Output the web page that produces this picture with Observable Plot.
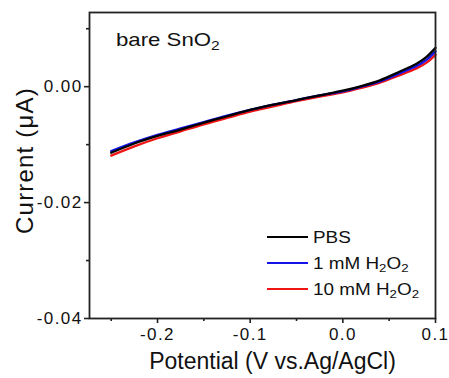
<!DOCTYPE html>
<html>
<head>
<meta charset="utf-8">
<script src="https://cdn.jsdelivr.net/npm/d3@7"></script>
<script src="https://cdn.jsdelivr.net/npm/@observablehq/plot@0.6"></script>
<style>
  html, body { margin: 0; padding: 0; background: #fff; }
  #wrap { position: relative; width: 449px; height: 378px; font-family: "Liberation Sans", Arial, sans-serif; }
  #wrap svg { position: absolute; left: 0; top: 0; }
  .txt { position: absolute; color: #111; line-height: 1; white-space: nowrap; transform-origin: 0 50%; }
  .txt sub { font-size: 70%; vertical-align: -0.3em; line-height: 0; }
  .sw { position: absolute; height: 0; border-top: 2px solid; }
</style>
</head>
<body>
<div id="wrap"></div>
<script>
// Potential (V vs. Ag/AgCl)
const potential = [-0.25, -0.225, -0.2, -0.175, -0.15, -0.125, -0.1, -0.075, -0.05, -0.025, 0, 0.02, 0.04, 0.06, 0.08, 0.09, 0.1];
// Current (µA)
const pbs  = [-0.0114, -0.0098, -0.0085, -0.0074, -0.0062, -0.0051, -0.0040, -0.0031, -0.0023, -0.0015, -0.0007, 0.0001, 0.0011, 0.0025, 0.0040, 0.0051, 0.0067];
const mM1  = [-0.0111, -0.0096, -0.0083, -0.0072, -0.0061, -0.0050, -0.0040, -0.0031, -0.0023, -0.0015, -0.0008, 0.0000, 0.0009, 0.0022, 0.0036, 0.0046, 0.0061];
const mM10 = [-0.0119, -0.0103, -0.0089, -0.0077, -0.0065, -0.0054, -0.0043, -0.0034, -0.0025, -0.0017, -0.0010, -0.0002, 0.0007, 0.0019, 0.0032, 0.0041, 0.0055];
const seriesNames = ["PBS", "1 mM H2O2", "10 mM H2O2"];
const seriesLabels = ["PBS", "1 mM H<sub>2</sub>O<sub>2</sub>", "10 mM H<sub>2</sub>O<sub>2</sub>"];
const seriesColors = ["#000000", "#1414e6", "#f01414"];
const xTicks = [-0.2, -0.1, 0.0, 0.1];
const xMinor = [-0.25, -0.15, -0.05, 0.05];
const yTicks = [-0.04, -0.02, 0.00];
const yMinor = [-0.03, -0.01, 0.01];

const allSeries = [pbs, mM1, mM10];
const rows = [];
allSeries.forEach((vals, si) => vals.forEach((v, i) => rows.push({s: seriesNames[si], x: potential[i], y: v})));
const drawOrder = [seriesNames[2], seriesNames[1], seriesNames[0]];

const font = "'Liberation Sans', Arial, sans-serif";
const axisStyle = {stroke: "#222", strokeWidth: 1.6, label: null};
const chart = Plot.plot({
  width: 449,
  height: 378,
  marginLeft: 89,
  marginRight: 14,
  marginTop: 12,
  marginBottom: 60,
  style: {fontFamily: font, background: "white", color: "#111"},
  x: {domain: [-0.2734, 0.1]},
  y: {domain: [-0.04, 0.0128]},
  color: {domain: seriesNames, range: seriesColors},
  marks: [
    ...drawOrder.map(name => Plot.line(rows.filter(d => d.s === name), {x: "x", y: "y", stroke: "s", strokeWidth: 2.3, curve: "catmull-rom"})),
    Plot.axisX({...axisStyle, ticks: xTicks, tickFormat: d => d.toFixed(1), tickSize: 5, tickPadding: 4, fontSize: 17, className: "ticklab"}),
    Plot.axisX({...axisStyle, ticks: xMinor, tickSize: 3, text: null}),
    Plot.axisY({...axisStyle, ticks: yTicks, tickFormat: d => d.toFixed(2), tickSize: 5, tickPadding: 2, fontSize: 17, className: "ticklab"}),
    Plot.axisY({...axisStyle, ticks: yMinor, tickSize: 3, text: null}),
    Plot.frame({stroke: "#222", strokeWidth: 1.8}),
    Plot.text(["Potential (V vs.Ag/AgCl)"], {frameAnchor: "bottom", textAnchor: "middle", dx: 10, dy: 50, fontSize: 23, fill: "#111", className: "xtitle"}),
    Plot.text(["Current (μA)"], {frameAnchor: "left", textAnchor: "middle", rotate: -90, dx: -64, dy: -5, fontSize: 24, fill: "#111", className: "ytitle"})
  ]
});
const wrap = document.getElementById("wrap");
wrap.appendChild(chart);
chart.querySelectorAll(".ticklab text").forEach(t => t.style.letterSpacing = "1.4px");
chart.querySelectorAll(".ytitle text").forEach(t => t.style.letterSpacing = "1.2px");

function addText(html, left, top, size, sx) {
  const d = document.createElement("div");
  d.className = "txt";
  d.style.left = left + "px";
  d.style.top = top + "px";
  d.style.fontSize = size + "px";
  d.style.transform = `scaleX(${sx})`;
  d.innerHTML = html;
  wrap.appendChild(d);
}
addText("bare SnO<sub>2</sub>", 116, 31, 18.5, 1.2);

seriesNames.forEach((n, i) => {
  const cy = 237 + i * 26;
  const sw = document.createElement("div");
  sw.className = "sw";
  sw.style.left = "267px";
  sw.style.width = "41px";
  sw.style.top = (cy - 1) + "px";
  sw.style.borderColor = seriesColors[i];
  wrap.appendChild(sw);
  addText(seriesLabels[i], 313, cy - 7, 16, 1.18);
});
</script>
</body>
</html>
